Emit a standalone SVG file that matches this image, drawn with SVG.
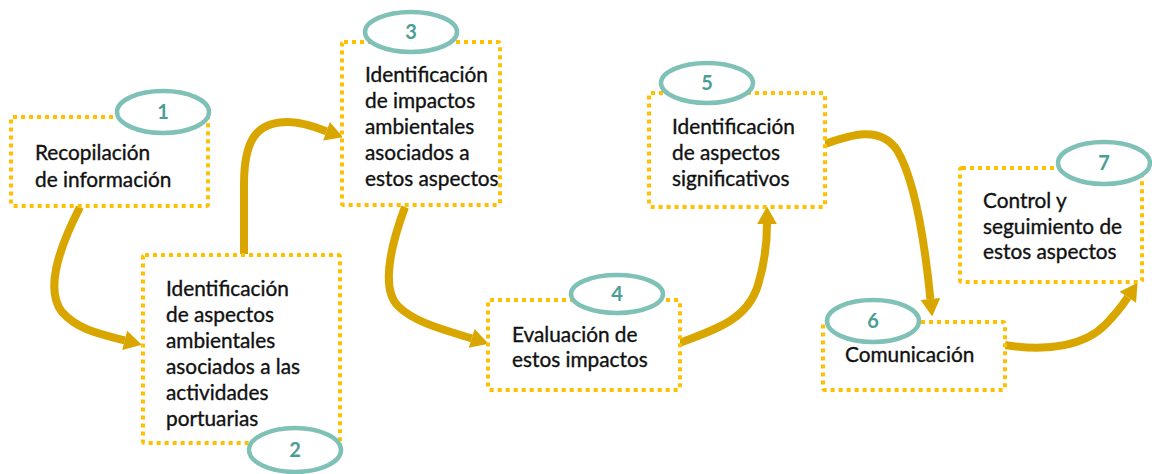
<svg xmlns="http://www.w3.org/2000/svg" width="1152" height="474" viewBox="0 0 1152 474">
<defs>
<style>
.box{fill:#fff;stroke:#ffc000;stroke-width:4;stroke-dasharray:4 4}
.oval{fill:#fff;stroke:#7fc1b7;stroke-width:4.5}
.num{font-family:Lato,"Open Sans",sans-serif;font-weight:bold;font-size:20px;fill:#4b9e93;text-anchor:middle}
.lbl{font-family:Lato,"Open Sans",sans-serif;font-size:20.8px;fill:#111;stroke:#111;stroke-width:0.35}
.conn{fill:none;stroke:#d9a600;stroke-width:8}
</style>
<marker id="ah" markerUnits="userSpaceOnUse" markerWidth="20" markerHeight="22" refX="0" refY="0" viewBox="0 -10 17 20" orient="auto">
<path d="M0,-9 L16,0 L0,9 z" fill="#d9a600"/>
</marker>
</defs>
<g id="connectors">
<path class="conn" marker-end="url(#ah)" d="M80,207 C58,250 45,290 62,312 C78,330 100,334 124.7,340.4"/>
<path class="conn" marker-end="url(#ah)" d="M244,254 L244,185 C244,140 256,122 288,122 C302,122 315,127 326.5,131.2"/>
<path class="conn" marker-end="url(#ah)" d="M405,207 C392,242 380,288 398,306 C415,323 445,330 471.7,338.4"/>
<path class="conn" marker-end="url(#ah)" d="M679,343 C720,328 748,318 758,285 C765,262 767,245 767,224"/>
<path class="conn" marker-end="url(#ah)" d="M825,144 C850,135 880,125 897,150 C915,180 925,245 930.4,299"/>
<path class="conn" marker-end="url(#ah)" d="M1005,345 C1050,352 1085,345 1105,325 C1115,315 1122,306 1127.8,297.3"/>
</g>
<g id="node1">
<rect class="box" x="11" y="117" width="197" height="89" rx="2"/>
<ellipse class="oval" cx="163" cy="112" rx="46" ry="21"/>
<text class="num" x="163" y="119">1</text>
<text class="lbl" x="35" y="160">Recopilación</text>
<text class="lbl" x="35" y="187">de información</text>
</g>
<g id="node2">
<rect class="box" x="143" y="255" width="197" height="188" rx="2"/>
<ellipse class="oval" cx="295" cy="450" rx="46" ry="22"/>
<text class="num" x="295" y="457">2</text>
<text class="lbl" x="166" y="296">Identificación</text>
<text class="lbl" x="166" y="322">de aspectos</text>
<text class="lbl" x="166" y="348">ambientales</text>
<text class="lbl" x="166" y="374">asociados a las</text>
<text class="lbl" x="166" y="400">actividades</text>
<text class="lbl" x="166" y="426">portuarias</text>
</g>
<g id="node3">
<rect class="box" x="342" y="42" width="158" height="163" rx="2"/>
<ellipse class="oval" cx="411" cy="32" rx="46" ry="20"/>
<text class="num" x="411" y="39">3</text>
<text class="lbl" x="365" y="82">Identificación</text>
<text class="lbl" x="365" y="108">de impactos</text>
<text class="lbl" x="365" y="134">ambientales</text>
<text class="lbl" x="365" y="160">asociados a</text>
<text class="lbl" x="365" y="186">estos aspectos</text>
</g>
<g id="node4">
<rect class="box" x="488" y="300" width="192" height="90" rx="2"/>
<ellipse class="oval" cx="617" cy="294" rx="46" ry="19"/>
<text class="num" x="617" y="301">4</text>
<text class="lbl" x="512" y="342">Evaluación de</text>
<text class="lbl" x="512" y="367">estos impactos</text>
</g>
<g id="node5">
<rect class="box" x="649" y="93" width="176" height="114" rx="2"/>
<ellipse class="oval" cx="707" cy="83" rx="46" ry="20"/>
<text class="num" x="707" y="90">5</text>
<text class="lbl" x="672" y="134">Identificación</text>
<text class="lbl" x="672" y="160">de aspectos</text>
<text class="lbl" x="672" y="186">significativos</text>
</g>
<g id="node6">
<rect class="box" x="823" y="322" width="182" height="68" rx="2"/>
<ellipse class="oval" cx="873" cy="321" rx="46" ry="21"/>
<text class="num" x="873" y="328">6</text>
<text class="lbl" x="845" y="362">Comunicación</text>
</g>
<g id="node7">
<rect class="box" x="960" y="168" width="182" height="114" rx="2"/>
<ellipse class="oval" cx="1104" cy="163" rx="46" ry="21"/>
<text class="num" x="1104" y="170">7</text>
<text class="lbl" x="983" y="208">Control y</text>
<text class="lbl" x="983" y="234">seguimiento de</text>
<text class="lbl" x="983" y="259">estos aspectos</text>
</g>
</svg>
